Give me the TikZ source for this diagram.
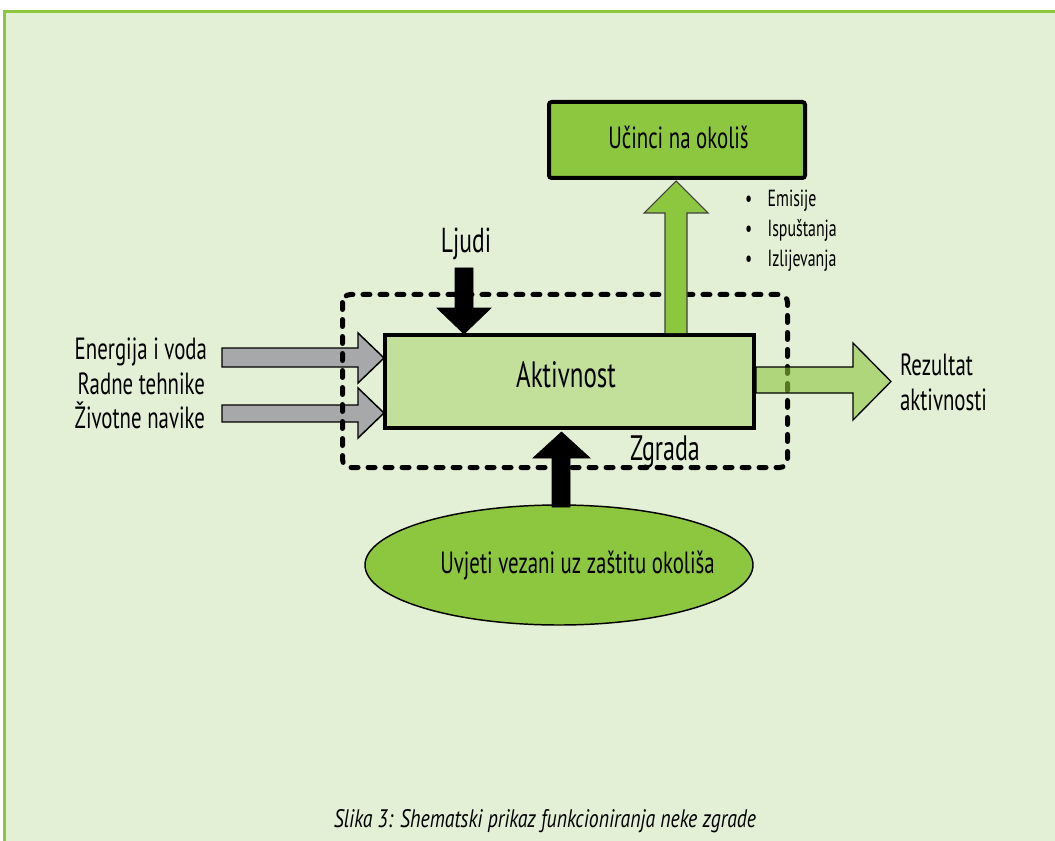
\documentclass[tikz,border=0pt]{standalone}
\usepackage{fontspec}
\setmainfont{PT Sans}[FakeStretch=0.68]
\newfontfamily\capfont{PT Sans}[FakeStretch=0.78]
\usetikzlibrary{shapes.geometric}
\definecolor{bggreen}{HTML}{E3F0D5}
\definecolor{framegreen}{HTML}{8DC63F}
\definecolor{boxgreen}{HTML}{8DC63F}
\definecolor{actgreen}{HTML}{C3E09A}
\definecolor{arrgray}{HTML}{A7A8AA}
\tikzset{
  txt/.style={inner sep=0pt, outer sep=0pt, text=black},
  blockarrow/.style={draw=black, line width=1.1pt, line join=miter},
  solidarrow/.style={fill=black, draw=black, line width=0.5pt},
}
\begin{document}
\begin{tikzpicture}[x=0.75pt,y=-0.75pt]
\useasboundingbox (0,0) rectangle (1055,841);
\fill[white] (0,0) rectangle (1055,841);
\fill[bggreen] (3,10) rectangle (1060,850);
\draw[framegreen, line width=2.2pt] (4.5,850) -- (4.5,11.5) -- (1060,11.5);

% gray input arrows
\draw[blockarrow, fill=arrgray] (222,348) -- (358,348) -- (358,333) -- (384,358) -- (358,383) -- (358,367) -- (222,367) -- cycle;
\draw[blockarrow, fill=arrgray] (222,405) -- (358,405) -- (358,388) -- (384,413) -- (358,438) -- (358,422) -- (222,422) -- cycle;

% dashed building boundary
\draw[line width=3.75pt, dash pattern=on 5.25pt off 7.5pt, line cap=round, rounded corners=6pt] (342.5,294.5) rectangle (787.5,467.5);

% activity box
\node[draw=black, line width=3pt, fill=actgreen, minimum width=276.75pt, minimum height=69.75pt, inner sep=0pt] (act) at (569.5,381.5) {};
\node[txt, anchor=base, font=\fontsize{27.5}{32}\selectfont] (aktl) at (566,387) {Aktivnost};

% top effects box
\node[draw=black, line width=3pt, fill=boxgreen, rounded corners=2pt, minimum width=192pt, minimum height=57pt, inner sep=0pt] (top) at (677,140) {};
\node[txt, anchor=base, font=\fontsize{23}{27}\selectfont] (topl) at (678.5,149) {Učinci na okoliš};

% green up arrow
\draw[draw=black!75, line width=0.8pt, fill=boxgreen] (665,333) -- (665,213) -- (644,213) -- (676,181) -- (708,213) -- (687,213) -- (687,333);

% bullets
\node[txt, anchor=base west, font=\fontsize{17.5}{20}\selectfont] (b1) at (745,207) {\makebox[17pt][l]{•}Emisije};
\node[txt, anchor=base west, font=\fontsize{17.5}{20}\selectfont] (b2) at (745,237) {\makebox[17pt][l]{•}Ispuštanja};
\node[txt, anchor=base west, font=\fontsize{17.5}{20}\selectfont] (b3) at (745,267) {\makebox[17pt][l]{•}Izlijevanja};

% Ljudi
\node[txt, anchor=base, font=\fontsize{26}{30}\selectfont] (ljudi) at (466,253) {Ljudi};
\draw[solidarrow] (455,268) -- (473,268) -- (473,308) -- (491,308) -- (464,334) -- (437,308) -- (455,308) -- cycle;

% left labels
\node[txt, anchor=base east, font=\fontsize{23}{27}\selectfont] (l1) at (207,359) {Energija i voda};
\node[txt, anchor=base east, font=\fontsize{23}{27}\selectfont] (l2) at (205,394) {Radne tehnike};
\node[txt, anchor=base east, font=\fontsize{23}{27}\selectfont] (l3) at (205,428) {Životne navike};

% result arrow
\draw[draw=black, line width=1pt, fill=boxgreen, fill opacity=0.6] (756,367) -- (853,367) -- (853,343) -- (891,381.5) -- (853,420) -- (853,393) -- (756,393) -- cycle;
\node[txt, anchor=base west, font=\fontsize{23}{27}\selectfont] (r1) at (900,375) {Rezultat};
\node[txt, anchor=base west, font=\fontsize{23}{27}\selectfont] (r2) at (900,410) {aktivnosti};

% Zgrada
\node[txt, anchor=base, font=\fontsize{26.5}{31}\selectfont] (zgr) at (665,460) {Zgrada};

% ellipse
\node[ellipse, draw=black, line width=1.1pt, fill=boxgreen, minimum width=291pt, minimum height=90pt, inner sep=0pt] (uvj) at (559,565) {};
\node[txt, anchor=base, font=\fontsize{23}{27}\selectfont] (uvjl) at (577.5,573) {Uvjeti vezani uz zaštitu okoliša};

% bottom arrow
\draw[solidarrow] (552,507) -- (552,458) -- (533,458) -- (561.5,432) -- (590,458) -- (570,458) -- (570,507) -- cycle;

% caption
\node[txt, anchor=base, font=\capfont\itshape\fontsize{19}{22}\selectfont] (cap) at (545,827) {Slika 3: Shematski prikaz funkcioniranja neke zgrade};
\end{tikzpicture}
\end{document}
